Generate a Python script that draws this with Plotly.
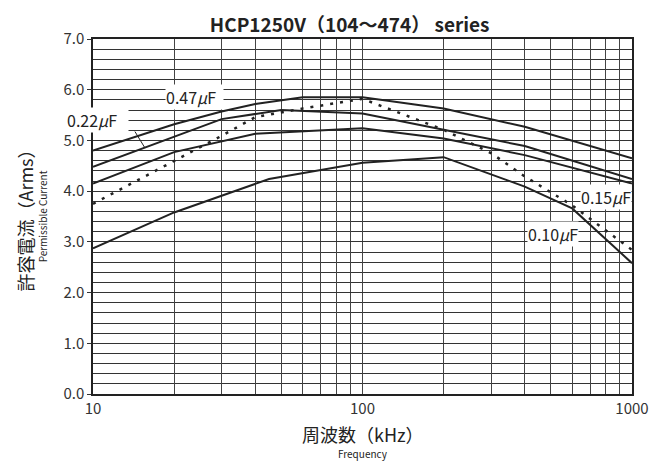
import plotly.graph_objects as go

freq_047 = [10, 20, 30, 40, 60, 100, 200, 400, 1000]
cur_047 = [4.80, 5.32, 5.57, 5.72, 5.85, 5.85, 5.63, 5.27, 4.65]

freq_022 = [10, 20, 30, 50, 100, 200, 400, 1000]
cur_022 = [4.48, 5.07, 5.42, 5.60, 5.53, 5.21, 4.89, 4.24]

freq_033 = [10, 20, 40, 100, 200, 400, 1000]
cur_033 = [4.15, 4.77, 5.13, 5.24, 5.04, 4.71, 4.15]

freq_015 = [10, 20, 30, 40, 60, 100, 200, 300, 400, 600, 1000]
cur_015 = [3.75, 4.60, 5.09, 5.46, 5.63, 5.82, 5.21, 4.75, 4.29, 3.72, 2.84]

freq_010 = [10, 20, 45, 100, 200, 400, 600, 1000]
cur_010 = [2.87, 3.58, 4.24, 4.56, 4.67, 4.09, 3.66, 2.58]

x_grid = [10, 20, 30, 40, 50, 60, 70, 80, 90, 100, 200, 300, 400, 500, 600, 700, 800, 900, 1000]
x_labels = ["10" if v == 10 else "100" if v == 100 else "1000" if v == 1000 else "" for v in x_grid]
y_ticks = [0, 1, 2, 3, 4, 5, 6, 7]
y_labels = ["0.0", "1.0", "2.0", "3.0", "4.0", "5.0", "6.0", "7.0"]

FONT = "Noto Sans CJK JP"
fig = go.Figure()
solid = dict(color="#222222", width=2)
fig.add_trace(go.Scatter(x=freq_047, y=cur_047, mode="lines", line=solid, name="0.47μF"))
fig.add_trace(go.Scatter(x=freq_022, y=cur_022, mode="lines", line=solid, name="0.22μF"))
fig.add_trace(go.Scatter(x=freq_033, y=cur_033, mode="lines", line=solid, name="0.33μF"))
fig.add_trace(go.Scatter(x=freq_015, y=cur_015, mode="lines",
                         line=dict(color="#222222", width=2.5, dash="3px,7px"), name="0.15μF"))
fig.add_trace(go.Scatter(x=freq_010, y=cur_010, mode="lines", line=solid, name="0.10μF"))

lab_font = dict(family=FONT, size=16, color="#222222")
ann = [
    dict(xref="x", x=1.267, y=5.86, text="0.47<i>μ</i>F  ", xanchor="left"),
    dict(xref="paper", x=-0.05, y=5.41, text="0.22<i>μ</i>F   ", xanchor="left"),
    dict(xref="x", x=2.904, y=3.88, text="0.15<i>μ</i>F", xanchor="center"),
    dict(xref="x", x=2.707, y=3.16, text="0.10<i>μ</i>F", xanchor="center"),
]
for a in ann:
    fig.add_annotation(yref="y", showarrow=False, font=lab_font,
                       bgcolor="white", borderpad=0, **a)
# leader line for 0.22
fig.add_annotation(xref="x", yref="y", x=1.193, y=4.85, ax=-11, ay=-18, text="",
                   showarrow=True, arrowhead=0, arrowwidth=1, arrowcolor="#222222")

# axis titles
fig.add_annotation(xref="paper", yref="paper", x=0.5, y=-0.07, yanchor="top", showarrow=False,
                   text="周波数（kHz）", font=dict(family=FONT, size=18, color="#222222"))
fig.add_annotation(xref="paper", yref="paper", x=0.5, y=-0.14, yanchor="top", showarrow=False,
                   text="Frequency", font=dict(family=FONT, size=10, color="#222222"))
fig.add_annotation(xref="paper", yref="paper", x=-0.128, y=0.5, xanchor="center", showarrow=False,
                   textangle=-90, text="許容電流（Arms）", font=dict(family=FONT, size=18, color="#222222"))
fig.add_annotation(xref="paper", yref="paper", x=-0.093, y=0.5, xanchor="center", showarrow=False,
                   textangle=-90, text="Permissible Current", font=dict(family=FONT, size=10, color="#222222"))

fig.update_layout(
    width=657, height=461,
    margin=dict(l=85, r=33, t=31, b=75),
    paper_bgcolor="white", plot_bgcolor="white",
    showlegend=False,
    title=dict(text="<b>HCP1250V（104～474） series</b>", x=0.52, xanchor="center", y=0.962, yanchor="middle",
               font=dict(family=FONT, size=19, color="#222222")),
    font=dict(family=FONT, color="#333333"),
)
fig.update_xaxes(type="log", range=[1, 3], tickvals=x_grid, ticktext=x_labels,
                 showgrid=True, gridcolor="#444444", gridwidth=1,
                 showline=True, linecolor="#222222", linewidth=1.5, mirror=True,
                 ticks="", tickfont=dict(family=FONT, size=15, color="#333333"), zeroline=False)
fig.update_yaxes(range=[0, 7], tickvals=y_ticks, ticktext=y_labels,
                 showgrid=True, gridcolor="#333333", gridwidth=1,
                 minor=dict(dtick=0.2, showgrid=True, gridcolor="#333333", gridwidth=1),
                 showline=True, linecolor="#222222", linewidth=1.5, mirror=True,
                 ticks="outside", ticklen=4, tickcolor="#333333",
                 tickfont=dict(family=FONT, size=15, color="#333333"), zeroline=False)

fig.write_html("out.html")
